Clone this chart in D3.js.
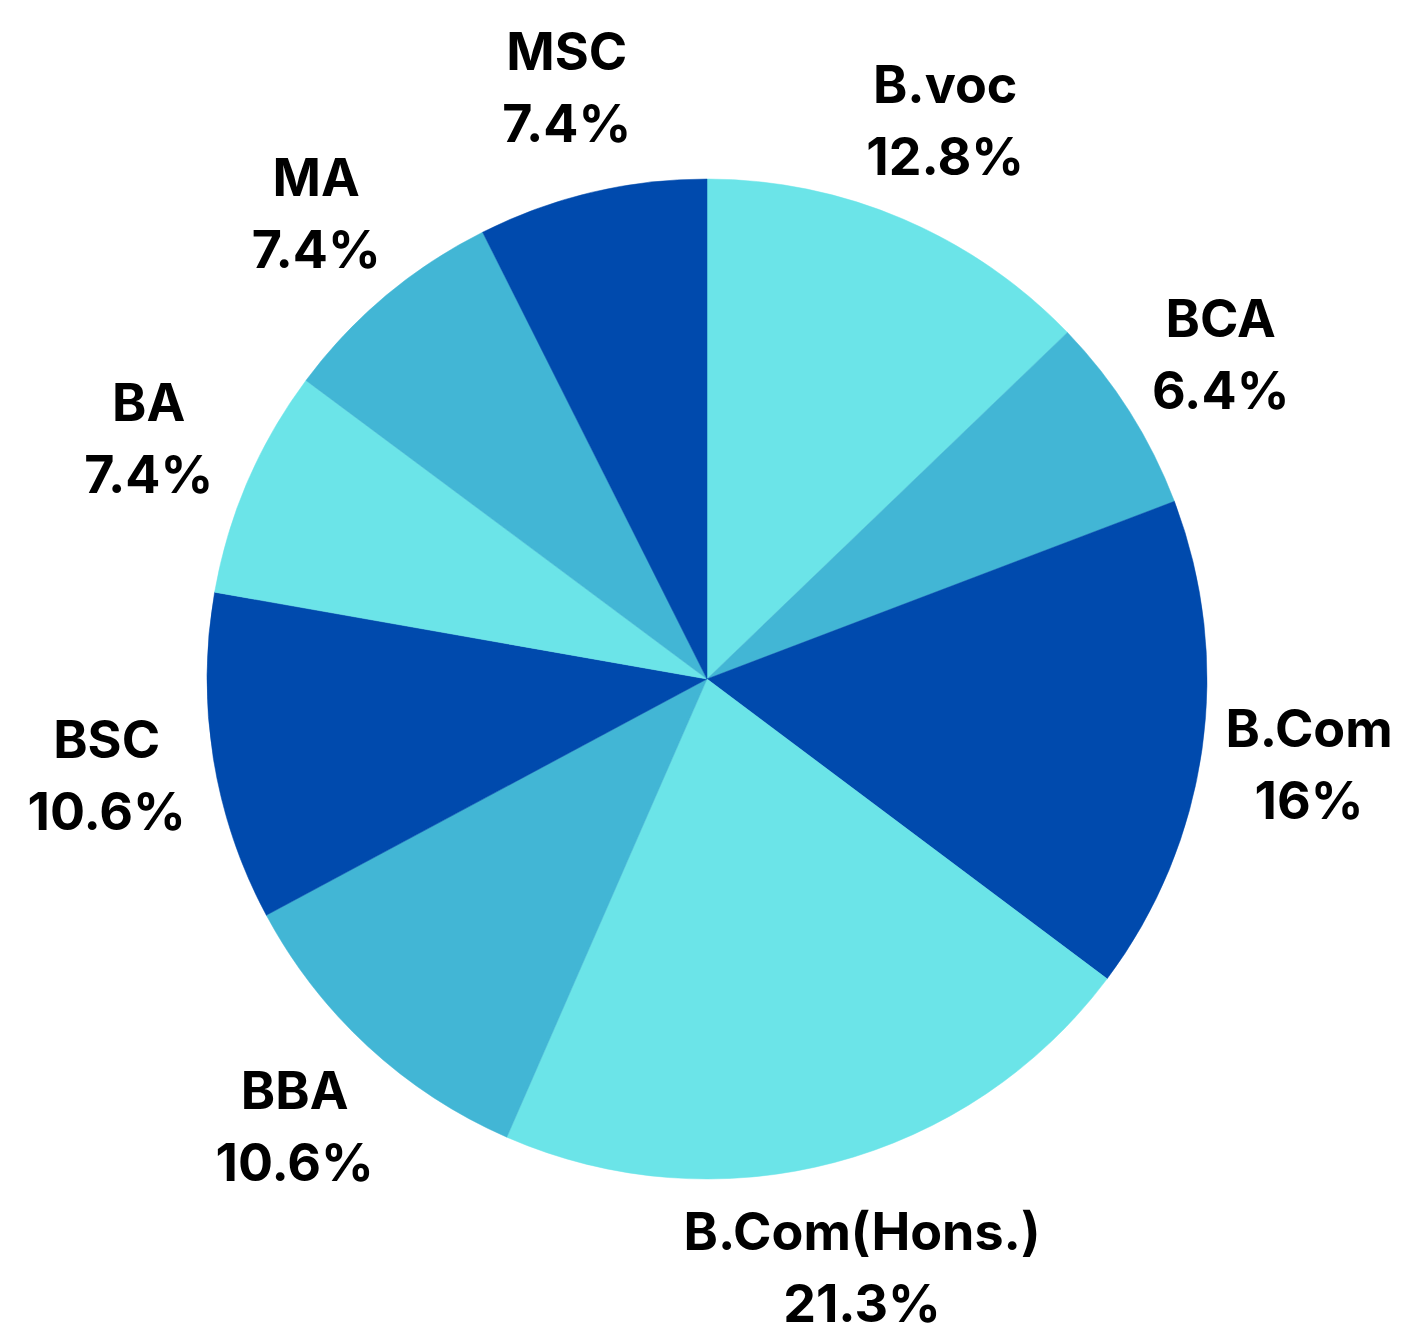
<!DOCTYPE html>
<html>
<head>
<meta charset="utf-8">
<script src="https://cdn.jsdelivr.net/npm/d3@7"></script>
<style>
  html, body { margin: 0; padding: 0; background: #fff; }
  svg { display: block; }
</style>
</head>
<body>
<div id="chart"></div>
<script>
// programme share of students
const programs = ["B.voc", "BCA", "B.Com", "B.Com(Hons.)", "BBA", "BSC", "BA", "MA", "MSC"];
const shares = [12.8, 6.4, 16, 21.3, 10.6, 10.6, 7.4, 7.4, 7.4];
const shareLabels = ["12.8%", "6.4%", "16%", "21.3%", "10.6%", "10.6%", "7.4%", "7.4%", "7.4%"];
const palette = ["#6be4e8", "#42b6d5", "#004aad"];

const width = 1407, height = 1331;
const cx = 707, cy = 679;
const radius = 500;
const labelRadius = 608;

const data = programs.map((name, i) => ({ name, value: shares[i], label: shareLabels[i], i }));

const svg = d3.select("#chart").append("svg")
    .attr("width", width)
    .attr("height", height)
    .attr("viewBox", [0, 0, width, height]);

const g = svg.append("g").attr("transform", `translate(${cx},${cy})`);

const pie = d3.pie().value(d => d.value).sort(null);
const arc = d3.arc().innerRadius(0).outerRadius(radius);
const labelArc = d3.arc().innerRadius(labelRadius).outerRadius(labelRadius);

const color = d3.scaleOrdinal().domain(d3.range(programs.length)).range(palette);

const arcs = pie(data);

g.selectAll("path")
    .data(arcs)
    .join("path")
    .attr("d", arc)
    .attr("fill", d => color(d.data.i))
    .attr("stroke", d => color(d.data.i))
    .attr("stroke-width", 0.5);

const labels = g.selectAll("text.lbl")
    .data(arcs)
    .join("text")
    .attr("class", "lbl")
    .attr("transform", d => `translate(${labelArc.centroid(d)})`)
    .attr("text-anchor", "middle")
    .style("font-family", "Inter, 'Open Sans', sans-serif")
    .style("font-weight", 700)
    .style("font-size", "52px")
    .style("fill", "#000");

labels.append("tspan")
    .attr("x", 0)
    .attr("y", -17)
    .text(d => d.data.name);

labels.append("tspan")
    .attr("x", 0)
    .attr("y", 55)
    .text(d => d.data.label);
</script>
</body>
</html>
